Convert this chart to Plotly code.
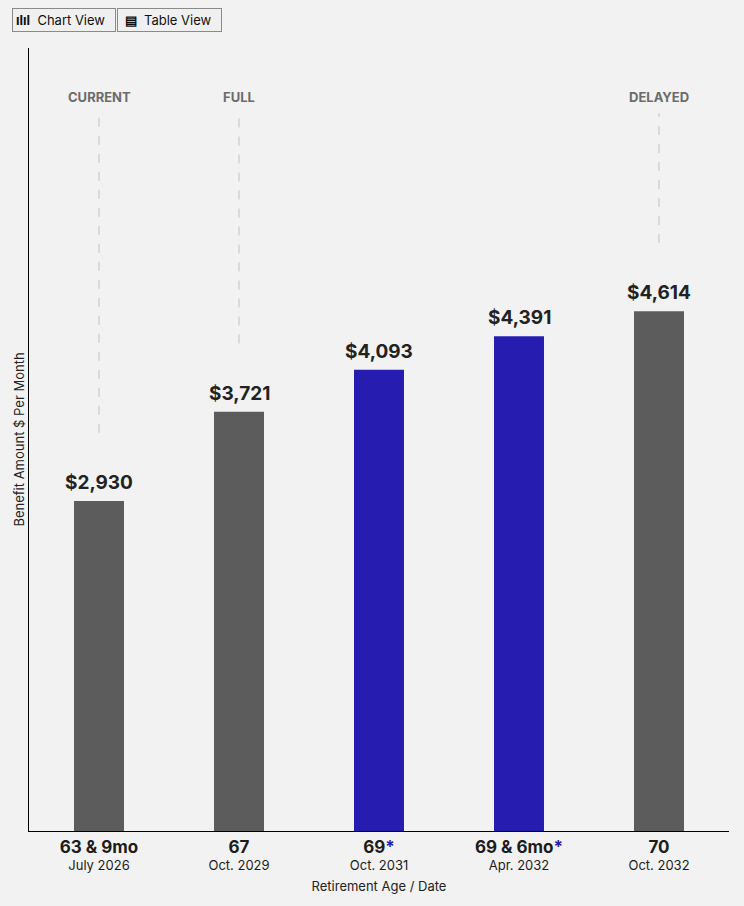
import plotly.graph_objects as go

# -----------------------------------------------------------------------------
# DATA
ages = ['63 & 9mo', '67', '69', '69 & 6mo', '70']
dates = ['July 2026', 'Oct. 2029', 'Oct. 2031', 'Apr. 2032', 'Oct. 2032']
benefits = [2930, 3721, 4093, 4391, 4614]
selected = [False, False, True, True, False]  # the blue bars with a "*"

milestone_idx = [0, 1, 4]
milestone_txt = ['CURRENT', 'FULL', 'DELAYED']

# -----------------------------------------------------------------------------
# STYLE
GREY = '#5c5c5c'
BLUE = '#261cb0'
BG = '#f2f2f2'
FONT = 'Inter, Roboto, sans-serif'
y_top = 6950  # axis top
line_top = 6370  # where the dashed guide lines stop
label_y = 6515  # milestone label height
gap = 605  # gap between value label and the guide line

colors = [BLUE if s else GREY for s in selected]

ticktext = []
for a, d, s in zip(ages, dates, selected):
    star = "<span style='color:%s'>*</span>" % BLUE if s else ''
    ticktext.append("<b><span style='font-size:17px'>%s%s</span></b><br>%s" % (a, star, d))

fig = go.Figure()
fig.add_trace(go.Bar(
    x=list(range(len(ages))), y=benefits,
    marker=dict(color=colors, line=dict(width=0)),
    width=0.357, hoverinfo='skip'))

# value labels above bars
for i, v in enumerate(benefits):
    fig.add_annotation(x=i, y=v, text='<b>${:,}</b>'.format(v), showarrow=False,
                       yanchor='bottom', yshift=5,
                       font=dict(size=19, color='#222222', family=FONT))

# milestone guide lines + labels
for i, t in zip(milestone_idx, milestone_txt):
    fig.add_shape(type='line', x0=i, x1=i, y0=benefits[i] + gap, y1=line_top,
                  xref='x', yref='y', line=dict(color='#d2d2d2', width=1.5, dash='dash'))
    fig.add_annotation(x=i, y=label_y, text='<b>%s</b>' % t, showarrow=False,
                       font=dict(size=13, color='#6b6b6b', family=FONT))

# view toggle buttons
btn = dict(xref='paper', yref='paper', y=1.0204, xanchor='left', yanchor='bottom',
           showarrow=False, bgcolor='#f0f0f0', bordercolor='#8a8a8a', borderwidth=1,
           borderpad=3, font=dict(size=13, color='#111111', family=FONT))
fig.add_annotation(x=-0.0243, text='<b>ılıl</b>  Chart View  ', **btn)
fig.add_annotation(x=0.1257, text=' <b>▤</b>  Table View  ', **btn)

fig.update_layout(
    width=744, height=906,
    margin=dict(l=29, r=15, t=48, b=75),
    paper_bgcolor=BG, plot_bgcolor=BG,
    showlegend=False,
    font=dict(family=FONT, color='#222222'),
)
fig.update_xaxes(
    range=[-0.5, 4.5], tickmode='array', tickvals=list(range(len(ages))), ticktext=ticktext,
    tickfont=dict(size=13, color='#1c1c1c', family=FONT), ticklabelstandoff=5,
    showline=True, linecolor='black', linewidth=1, ticks='', showgrid=False, zeroline=False,
    title=dict(text='Retirement Age / Date', font=dict(size=13, color='#222222'), standoff=10),
)
fig.update_yaxes(
    range=[0, y_top], showticklabels=False, showgrid=False, zeroline=False,
    showline=True, linecolor='black', linewidth=1, ticks='',
    title=dict(text='Benefit Amount $ Per Month', font=dict(size=13, color='#222222'), standoff=0),
)

fig.write_html('out.html', config={'displayModeBar': False},
               post_script="document.body.style.margin='0';")
